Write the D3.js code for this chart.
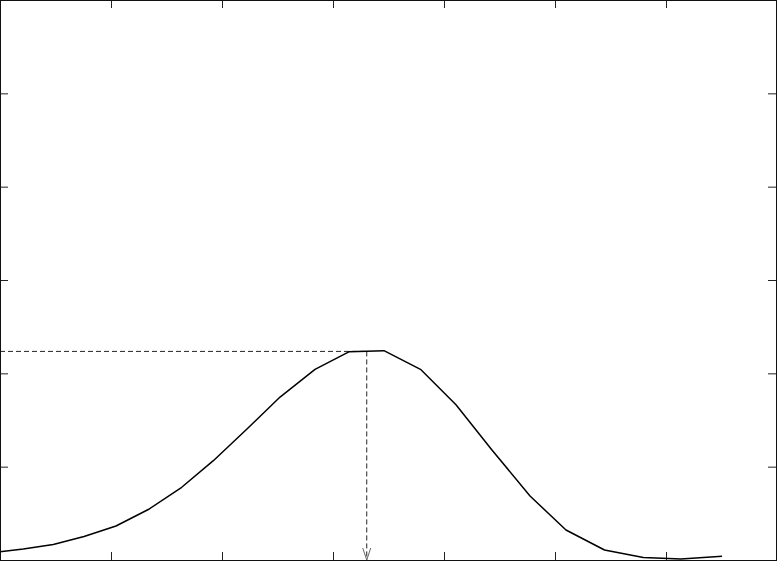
<!DOCTYPE html>
<html>
<head>
<meta charset="utf-8">
<script src="https://cdn.jsdelivr.net/npm/d3@7"></script>
<style>
  html, body { margin: 0; padding: 0; background: #fff; }
  svg { display: block; }
</style>
</head>
<body>
<div id="chart"></div>
<script>
// --- data (axis units, no labels shown) ---
const xValues = [0, 0.21, 0.48, 0.757, 1.045, 1.336, 1.637, 1.922, 2.225, 2.523, 2.838,
                 3.147, 3.459, 3.788, 4.108, 4.432, 4.775, 5.099, 5.446, 5.796, 6.135, 6.505];
const yValues = [0.089, 0.118, 0.166, 0.252, 0.364, 0.541, 0.779, 1.064, 1.404, 1.746, 2.043,
                 2.232, 2.243, 2.043, 1.664, 1.179, 0.686, 0.321, 0.107, 0.027, 0.011, 0.040];
const xTicks = [1, 2, 3, 4, 5, 6];
const yTicks = [1, 2, 3, 4, 5];
const xDomain = [0, 7];
const yDomain = [0, 6];
const peakX = 3.304;
const peakY = 2.235;

const W = 777, H = 561;
const plotW = 777, plotH = 560;

const svg = d3.select('#chart').append('svg')
    .attr('width', W)
    .attr('height', H);

const x = d3.scaleLinear().domain(xDomain).range([0, plotW]);
const y = d3.scaleLinear().domain(yDomain).range([plotH, 0]);

// --- open arrow head for the peak marker ---
svg.append('defs').append('marker')
    .attr('id', 'vee')
    .attr('markerUnits', 'userSpaceOnUse')
    .attr('viewBox', '-14 -6 15 12')
    .attr('refX', 0).attr('refY', 0)
    .attr('markerWidth', 15).attr('markerHeight', 12)
    .attr('orient', 'auto')
    .append('path')
    .attr('d', 'M-12,-4 L0,0 L-12,4')
    .attr('fill', 'none')
    .attr('stroke', '#666')
    .attr('stroke-width', 1);

// --- ticks, pointing inwards on every side ---
const tickLen = -8;
const styleAxis = g => {
    g.select('.domain').remove();
    g.selectAll('.tick line').attr('stroke', '#222');
    g.selectAll('.tick text').remove();
};

svg.append('g')
    .attr('transform', `translate(0,${plotH})`)
    .call(d3.axisBottom(x).tickValues(xTicks).tickSize(tickLen).tickFormat(''))
    .call(styleAxis);
svg.append('g')
    .attr('transform', 'translate(0,0)')
    .call(d3.axisTop(x).tickValues(xTicks).tickSize(tickLen).tickFormat(''))
    .call(styleAxis);
svg.append('g')
    .attr('transform', 'translate(0,0)')
    .call(d3.axisLeft(y).tickValues(yTicks).tickSize(tickLen).tickFormat(''))
    .call(styleAxis);
svg.append('g')
    .attr('transform', `translate(${plotW - 1},0)`)
    .call(d3.axisRight(y).tickValues(yTicks).tickSize(tickLen).tickFormat(''))
    .call(styleAxis);

// --- peak guide lines ---
svg.append('line')
    .attr('x1', x(0)).attr('y1', y(peakY))
    .attr('x2', x(peakX)).attr('y2', y(peakY))
    .attr('stroke', '#222')
    .attr('stroke-width', 1)
    .attr('stroke-dasharray', '5,3');

svg.append('line')
    .attr('x1', x(peakX)).attr('y1', y(peakY))
    .attr('x2', x(peakX)).attr('y2', y(0))
    .attr('stroke', '#222')
    .attr('stroke-width', 1)
    .attr('stroke-dasharray', '5,3')
    .attr('marker-end', 'url(#vee)');

// --- the curve ---
const pts = xValues.map((v, i) => [v, yValues[i]]);
svg.append('path')
    .datum(pts)
    .attr('fill', 'none')
    .attr('stroke', '#000')
    .attr('stroke-width', 1.5)
    .attr('stroke-linejoin', 'round')
    .attr('d', d3.line().x(d => x(d[0])).y(d => y(d[1])));

// --- frame ---
svg.append('rect')
    .attr('x', 0.5).attr('y', 0.5)
    .attr('width', plotW - 1).attr('height', plotH)
    .attr('fill', 'none')
    .attr('stroke', '#111')
    .attr('stroke-width', 1);
</script>
</body>
</html>
